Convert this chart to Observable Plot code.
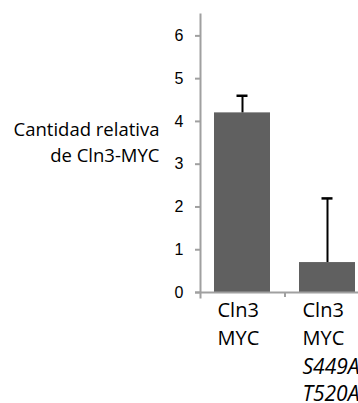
<!DOCTYPE html>
<html>
<head>
<meta charset="utf-8">
<script src="https://cdn.jsdelivr.net/npm/d3@7"></script>
<script src="https://cdn.jsdelivr.net/npm/@observablehq/plot@0.6"></script>
<style>
  html, body { margin: 0; padding: 0; background: #fff; overflow: hidden; }
</style>
</head>
<body>
<div id="chart"></div>
<script>
const categories = ["Cln3 MYC", "Cln3 MYC S449A T520A"];
const values = [4.2, 0.7];
const errors = [0.4, 1.5];
const labelLines = ["Cln3\nMYC", "Cln3\nMYC"];
const italicLines = ["", "S449A\nT520A"];
const yTicks = [0, 1, 2, 3, 4, 5, 6];
const yTitle = "Cantidad relativa\nde Cln3-MYC";

const data = categories.map((c, i) => ({
  cat: c, value: values[i], top: values[i] + errors[i],
  label: labelLines[i], italic: italicLines[i]
}));

const gray = "#a0a0a0";
const labelFont = "'Open Sans', sans-serif";

const chart = Plot.plot({
  width: 358,
  height: 403,
  marginLeft: 200,
  marginRight: 0,
  marginTop: 14,
  marginBottom: 111,
  style: { fontFamily: "'Liberation Sans', Arial, sans-serif", background: "white", overflow: "hidden", color: "#000" },
  x: { type: "band", domain: categories, range: [200, 370], paddingInner: 0.34, paddingOuter: 0.17, axis: null },
  y: { domain: [0, 6.5], axis: null },
  marks: [
    Plot.barY(data, { x: "cat", y: "value", fill: "#606060" }),
    Plot.ruleX(data, { x: "cat", y1: "value", y2: "top", stroke: "#000", strokeWidth: 2 }),
    Plot.tickY(data, { x: "cat", y: "top", stroke: "#000", strokeWidth: 2.5, insetLeft: 22.5, insetRight: 22.5 }),
    Plot.frame({ anchor: "left", stroke: gray, strokeWidth: 2, insetBottom: -5 }),
    Plot.ruleY([0], { stroke: gray, strokeWidth: 2, insetLeft: -5 }),
    Plot.axisY({ ticks: yTicks, tickFormat: d3.format("d"), tickSize: 5, tickPadding: 12, stroke: gray, strokeWidth: 2, fill: "#000", fontSize: 16, label: null }),
    Plot.axisX([categories[0]], { tickSize: 5, dx: 42.5, stroke: gray, strokeWidth: 2, tickFormat: () => "", label: null }),
    Plot.text(data, { x: "cat", text: "label", frameAnchor: "bottom", textAnchor: "start", lineAnchor: "top",
      dx: -25, dy: 5, lineHeight: 1.39, fontSize: 20, fontFamily: labelFont, fill: "#000" }),
    Plot.text(data, { x: "cat", text: "italic", frameAnchor: "bottom", textAnchor: "start", lineAnchor: "top",
      dx: -25, dy: 61.9, lineHeight: 1.3, fontSize: 21, fontStyle: "italic", fontFamily: labelFont, fill: "#000" }),
    Plot.text([yTitle], { frameAnchor: "left", textAnchor: "end", lineAnchor: "middle", dx: -41, dy: -12.4,
      lineHeight: 1.39, fontSize: 18.5, fontFamily: labelFont, fill: "#000" })
  ]
});
document.getElementById("chart").appendChild(chart);
</script>
</body>
</html>
